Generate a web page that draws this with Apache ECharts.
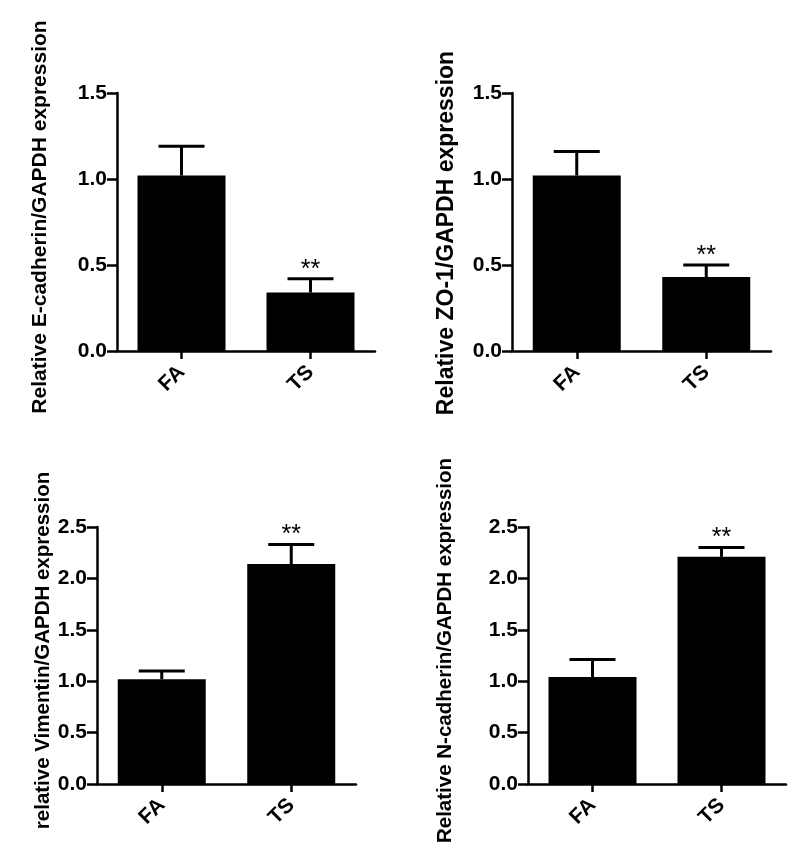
<!DOCTYPE html>
<html>
<head>
<meta charset="utf-8">
<script src="https://cdn.jsdelivr.net/npm/echarts@6/dist/echarts.min.js"></script>
<style>
html,body{margin:0;padding:0;background:#fff;}
#chart{width:800px;height:863px;}
</style>
</head>
<body>
<div id="chart"></div>
<script>
const categories = ['FA', 'TS'];
const ecadMean = [1.02, 0.34];
const ecadErr  = [0.17, 0.08];
const zo1Mean  = [1.02, 0.43];
const zo1Err   = [0.14, 0.07];
const vimMean  = [1.02, 2.14];
const vimErr   = [0.08, 0.19];
const ncadMean = [1.04, 2.21];
const ncadErr  = [0.17, 0.09];
const sigMarks = ['', '**'];
const yTitles = [
  'Relative E-cadherin/GAPDH expression',
  'Relative ZO-1/GAPDH expression',
  'relative Vimentin/GAPDH expression',
  'Relative N-cadherin/GAPDH expression'
];
const yMax = [1.5, 1.5, 2.5, 2.5];

const FONT = '"Liberation Sans", Arial, sans-serif';
const grids = [
  {left: 117, top: 93, width: 258, height: 258},
  {left: 512, top: 93, width: 259, height: 258},
  {left: 97, top: 527, width: 259, height: 257},
  {left: 528, top: 527, width: 258, height: 257}
];
const nameGaps = [66, 54, 43, 72];
const nameSizes = [21, 23, 20.5, 20.5];
const namePads = [[0, 0, 0, 10], [0, 22, 0, 0], [0, 0, 0, 10], [0, 0, 0, 10]];

const panels = [
  [ecadMean, ecadErr],
  [zo1Mean, zo1Err],
  [vimMean, vimErr],
  [ncadMean, ncadErr]
];

const xAxes = [], yAxes = [], series = [];
panels.forEach((p, i) => {
  xAxes.push({
    gridIndex: i, type: 'category', data: categories,
    axisLine: {lineStyle: {color: '#000', width: 2.5}},
    axisTick: {show: true, length: 8, alignWithLabel: true, lineStyle: {color: '#000', width: 2.5}},
    axisLabel: {rotate: 45, margin: 18, color: '#000', fontSize: 21, fontWeight: 'bold', fontFamily: FONT}
  });
  yAxes.push({
    gridIndex: i, type: 'value', min: 0, max: yMax[i], interval: 0.5,
    name: yTitles[i], nameLocation: 'middle', nameGap: nameGaps[i], nameRotate: 90,
    nameTextStyle: {color: '#000', fontSize: nameSizes[i], fontWeight: 'bold', fontFamily: FONT, padding: namePads[i]},
    splitLine: {show: false},
    axisLine: {show: true, lineStyle: {color: '#000', width: 2.5}},
    axisTick: {show: true, length: 10, lineStyle: {color: '#000', width: 2.5}},
    axisLabel: {margin: 10, color: '#000', fontSize: 21, fontWeight: 'bold', fontFamily: FONT,
      formatter: v => v.toFixed(1)}
  });
  series.push({
    type: 'bar', xAxisIndex: i, yAxisIndex: i, data: p[0], barWidth: 88,
    itemStyle: {color: '#000'}, z: 2
  });
  const errData = categories.map((c, k) => [k, p[0][k], p[0][k] + p[1][k]]);
  series.push({
    type: 'custom', xAxisIndex: i, yAxisIndex: i, data: errData, z: 3,
    renderItem: (params, api) => {
      const x = api.value(0);
      const lo = api.coord([x, api.value(1)]);
      const hi = api.coord([x, api.value(2)]);
      const half = 23;
      const st = {stroke: '#000', lineWidth: 3};
      const children = [
        {type: 'line', shape: {x1: lo[0], y1: lo[1], x2: hi[0], y2: hi[1]}, style: st},
        {type: 'line', shape: {x1: hi[0] - half, y1: hi[1], x2: hi[0] + half, y2: hi[1]}, style: st}
      ];
      const s = sigMarks[params.dataIndex];
      if (s) {
        children.push({type: 'text', style: {text: s, x: hi[0], y: hi[1] - 9, align: 'center', verticalAlign: 'middle',
          fill: '#000', fontSize: 25, fontFamily: FONT}});
      }
      return {type: 'group', children};
    }
  });
});

const chart = echarts.init(document.getElementById('chart'), null, {renderer: 'canvas'});
chart.setOption({
  animation: false,
  backgroundColor: '#fff',
  grid: grids,
  xAxis: xAxes,
  yAxis: yAxes,
  series
});
</script>
</body>
</html>
